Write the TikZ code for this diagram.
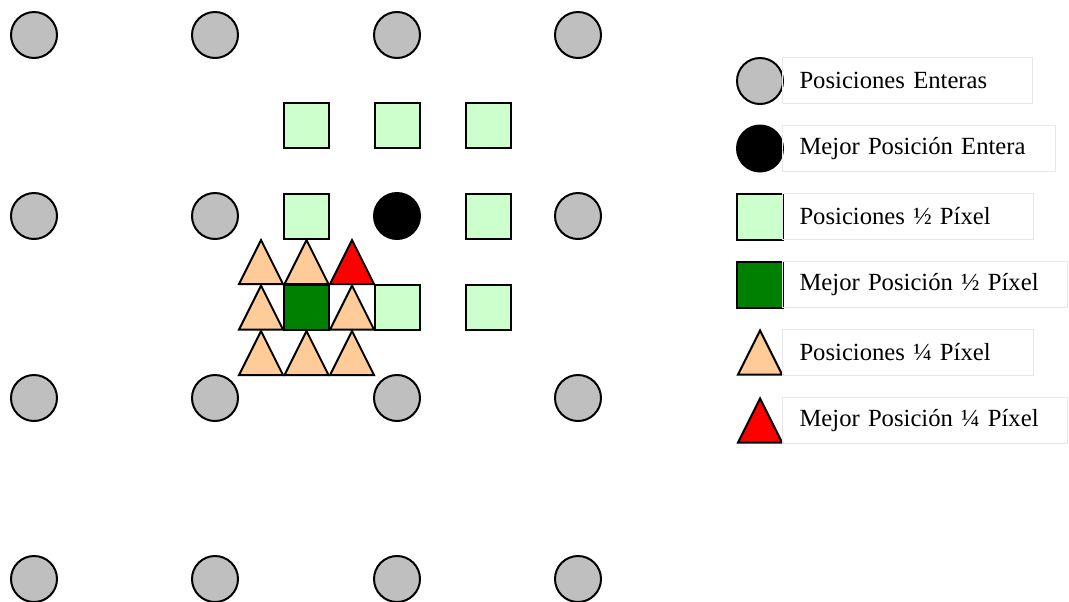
\documentclass[tikz,border=0pt]{standalone}
\usepackage{fontspec}
\setmainfont{Liberation Serif}
\newdimen\px \px=0.75pt
\definecolor{halfgreen}{HTML}{CCFFCC}
\definecolor{bestgreen}{HTML}{008000}
\definecolor{quarterpeach}{HTML}{FFCC99}
\begin{document}
\begin{tikzpicture}[x=0.75pt, y=-0.75pt, line width=1.5pt,
  intpos/.style={draw,circle,fill=black!25,minimum size=46\px,inner sep=0pt},
  bestint/.style={intpos,fill=black},
  halfpos/.style={draw,rectangle,fill=halfgreen,minimum size=45\px,inner sep=0pt},
  besthalf/.style={halfpos,fill=bestgreen},
  legtext/.style={draw=black!9,line width=0.75pt,anchor=west,minimum height=46\px,
    inner xsep=17\px,text width=#1\px,align=left,font=\fontsize{18.5pt}{21pt}\selectfont},
  pics/tri/.style={code={\draw[fill=#1] (-22,22) -- (0,-22) -- (22,22) -- cycle;}}]
\useasboundingbox (0,0) rectangle (1069,601);
% integer positions
\node[intpos] (i11) at (34,35) {};
\node[intpos] (i12) at (215,35) {};
\node[intpos] (i13) at (397,35) {};
\node[intpos] (i14) at (578,35) {};
\node[intpos] (i21) at (34,216) {};
\node[intpos] (i22) at (215,216) {};
\node[bestint] (i23) at (397,216) {};
\node[intpos] (i24) at (578,216) {};
\node[intpos] (i31) at (34,398) {};
\node[intpos] (i32) at (215,398) {};
\node[intpos] (i33) at (397,398) {};
\node[intpos] (i34) at (578,398) {};
\node[intpos] (i41) at (34,579) {};
\node[intpos] (i42) at (215,579) {};
\node[intpos] (i43) at (397,579) {};
\node[intpos] (i44) at (578,579) {};
% half pixel positions
\node[halfpos] (h11) at (306,125) {};
\node[halfpos] (h12) at (397,125) {};
\node[halfpos] (h13) at (488,125) {};
\node[halfpos] (h21) at (306,216) {};
\node[halfpos] (h23) at (488,216) {};
\node[besthalf] (h31) at (306.5,307.5) {};
\node[halfpos] (h32) at (397,307.5) {};
\node[halfpos] (h33) at (488,307.5) {};
% quarter pixel positions
\pic (q11) at (261,262) {tri=quarterpeach};
\pic (q12) at (306.5,262) {tri=quarterpeach};
\pic (q13) at (352,262) {tri=red};
\pic (q21) at (261,307.5) {tri=quarterpeach};
\pic (q23) at (352,307.5) {tri=quarterpeach};
\pic (q31) at (261,353) {tri=quarterpeach};
\pic (q32) at (306.5,353) {tri=quarterpeach};
\pic (q33) at (352,353) {tri=quarterpeach};
% legend
\node[intpos] (lint) at (760,81) {};
\node[bestint] (lbint) at (760,148.5) {};
\node[halfpos,minimum size=46\px] (lhalf) at (760,217) {};
\node[besthalf,minimum size=46\px] (lbhalf) at (760,285) {};
\pic (lq) at (760,352.5) {tri=quarterpeach};
\pic (lbq) at (760,420.5) {tri=red};
\node[legtext=216] (tint) at (782,80) {Posiciones Enteras};
\node[legtext=239] (tbint) at (782,148.5) {Mejor Posición Entera};
\node[legtext=217] (thalf) at (782,216.5) {Posiciones ½ Píxel};
\node[legtext=251] (tbhalf) at (782,284.5) {Mejor Posición ½ Píxel};
\node[legtext=217] (tq) at (782,352.5) {Posiciones ¼ Píxel};
\node[legtext=251] (tbq) at (782,420.5) {Mejor Posición ¼ Píxel};
\end{tikzpicture}
\end{document}
